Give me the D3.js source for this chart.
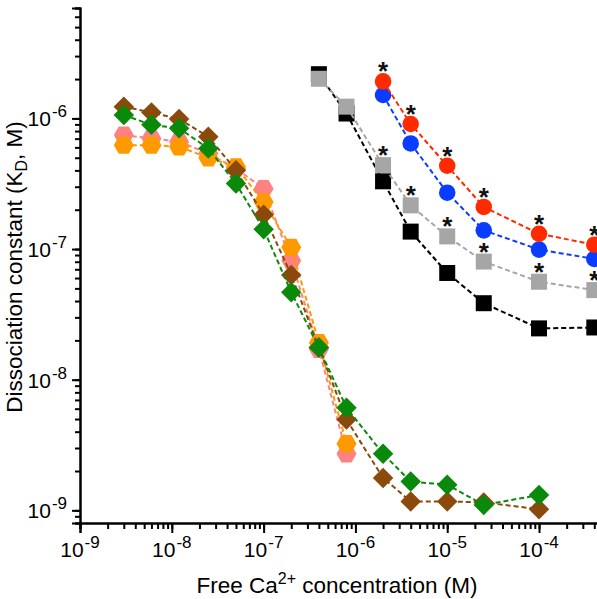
<!DOCTYPE html>
<html>
<head>
<meta charset="utf-8">
<script src="https://cdn.jsdelivr.net/npm/d3@7"></script>
<style>
  body { margin: 0; background: #fff; }
  svg { display: block; font-family: "Liberation Sans", Arial, sans-serif; }
</style>
</head>
<body>
<div id="chart"></div>
<script>
// ---------------- data ----------------
const xLeft = [3e-9, 6e-9, 1.2e-8, 2.5e-8, 5e-8, 1e-7, 2e-7, 4e-7, 8e-7, 2e-6, 4e-6, 1e-5, 2.5e-5, 1e-4];
const brownKd = [1.23e-6, 1.11e-6, 9.9e-7, 7.24e-7, 4.01e-7, 1.83e-7, 6.34e-8, 1.76e-8, 4.95e-9, 1.77e-9, 1.17e-9, 1.17e-9, 1.15e-9, 1.02e-9];
const greenKd = [1.06e-6, 8.93e-7, 8.4e-7, 5.89e-7, 3.17e-7, 1.42e-7, 4.67e-8, 1.76e-8, 6.1e-9, 2.71e-9, 1.66e-9, 1.57e-9, 1.1e-9, 1.31e-9];
const xHex = [3e-9, 6e-9, 1.2e-8, 2.5e-8, 5e-8, 1e-7, 2e-7, 4e-7, 8e-7];
const pinkKd = [7.45e-7, 7.03e-7, 6.64e-7, 5.4e-7, 4.13e-7, 2.9e-7, 8.15e-8, 1.71e-8, 2.71e-9];
const orangeKd = [6.24e-7, 6.24e-7, 6.07e-7, 5.0e-7, 4.26e-7, 2.29e-7, 1.03e-7, 1.92e-8, 3.24e-9];

const xSquare = [4e-7, 8e-7, 2e-6, 4e-6, 1e-5, 2.5e-5, 1e-4, 4e-4];
const blackKd = [2.18e-6, 1.09e-6, 3.3e-7, 1.36e-7, 6.56e-8, 3.85e-8, 2.47e-8, 2.51e-8];
const grayKd = [2.01e-6, 1.23e-6, 4.39e-7, 2.16e-7, 1.25e-7, 8.02e-8, 5.62e-8, 4.85e-8];
const grayStar = [false, false, true, true, true, true, true, true];

const xCircle = [2e-6, 4e-6, 1e-5, 2.5e-5, 1e-4, 4e-4];
const blueKd = [1.51e-6, 6.43e-7, 2.7e-7, 1.39e-7, 9.9e-8, 8.41e-8];
const redKd = [1.92e-6, 9.06e-7, 4.34e-7, 2.1e-7, 1.31e-7, 1.08e-7];
const redStar = [true, true, true, true, true, true];

const xTickExp = [-9, -8, -7, -6, -5, -4];
const yTickExp = [-9, -8, -7, -6];

// ---------------- layout ----------------
const W = 597, H = 599;
const svg = d3.select("#chart").append("svg")
    .attr("width", W)
    .attr("height", H);

const x = d3.scaleLog().domain([1e-9, 5e-4]).range([80, 603.2]);
const y = d3.scaleLog().domain([8e-10, 7e-6]).range([523, 8]);

// minor tick values (1..9 of each decade)
function minorTicks(lo, hi) {
    const out = [];
    for (let e = -10; e <= -3; e++) {
        for (let m = 1; m <= 9; m++) {
            const v = m * Math.pow(10, e);
            if (v >= lo * 0.9999 && v <= hi * 1.0001) out.push(v);
        }
    }
    return out;
}

// hexagon with flat top/bottom
function hexPath(r) {
    const p = d3.path();
    for (let k = 0; k < 6; k++) {
        const a = k * Math.PI / 3;
        const px = r * Math.cos(a), py = r * Math.sin(a);
        if (k === 0) p.moveTo(px, py); else p.lineTo(px, py);
    }
    p.closePath();
    return p.toString();
}

const shapes = {
    square: d3.symbol().type(d3.symbolSquare).size(256)(),
    circle: d3.symbol().type(d3.symbolCircle).size(215)(),
    diamond: d3.symbol().type(d3.symbolSquare).size(210)(),
    hex: hexPath(10)
};

function drawSeries(xs, ys, color, shape, stars) {
    const pts = xs.map((d, i) => [d, ys[i]]);
    const g = svg.append("g");
    g.append("path")
        .datum(pts)
        .attr("fill", "none")
        .attr("stroke", color)
        .attr("stroke-width", 2)
        .attr("stroke-dasharray", "5,3")
        .attr("d", d3.line().x(d => x(d[0])).y(d => y(d[1])));
    g.selectAll("path.m")
        .data(pts)
        .join("path")
        .attr("class", "m")
        .attr("d", shapes[shape])
        .attr("fill", color)
        .attr("transform", d => `translate(${x(d[0])},${y(d[1])})` + (shape === "diamond" ? " rotate(45)" : ""));
    if (stars) {
        g.selectAll("text.star")
            .data(pts.filter((d, i) => stars[i]))
            .join("text")
            .attr("class", "star")
            .attr("x", d => x(d[0]))
            .attr("y", d => y(d[1]) - 1)
            .attr("text-anchor", "middle")
            .attr("font-size", 26)
            .attr("font-weight", "bold")
            .attr("fill", "#111")
            .text("*");
    }
}

// ---------------- series ----------------
drawSeries(xHex, pinkKd, "#ff8282", "hex");
drawSeries(xHex, orangeKd, "#ff9900", "hex");
drawSeries(xLeft, brownKd, "#8b4a0c", "diamond");
drawSeries(xLeft, greenKd, "#0a8a0a", "diamond");
drawSeries(xSquare, blackKd, "#000000", "square");
drawSeries(xSquare, grayKd, "#a6a6a6", "square", grayStar);
drawSeries(xCircle, blueKd, "#0a3cff", "circle");
drawSeries(xCircle, redKd, "#ff2a00", "circle", redStar);

// ---------------- axes ----------------
const xAxisY = 523, yAxisX = 80;
const xMajor = xTickExp.map(e => Math.pow(10, e));
const yMajor = yTickExp.map(e => Math.pow(10, e));

const xg = svg.append("g").attr("transform", `translate(0,${xAxisY})`);
xg.call(d3.axisBottom(x).tickValues(minorTicks(1e-9, 5e-4)).tickSize(6).tickFormat(""));
xg.append("g").call(d3.axisBottom(x).tickValues(xMajor).tickSize(10).tickFormat(""));
xg.selectAll("path.domain").attr("stroke-width", 2).attr("stroke", "#000");
xg.selectAll(".tick line").attr("stroke-width", 2).attr("stroke", "#000");

const yg = svg.append("g").attr("transform", `translate(${yAxisX},0)`);
yg.call(d3.axisLeft(y).tickValues(minorTicks(8e-10, 7e-6)).tickSize(5).tickFormat(""));
yg.append("g").call(d3.axisLeft(y).tickValues(yMajor).tickSize(8).tickFormat(""));
yg.selectAll("path.domain").attr("stroke-width", 2).attr("stroke", "#000");
yg.selectAll(".tick line").attr("stroke-width", 2).attr("stroke", "#000");

// tick labels 10^n
xTickExp.forEach(e => {
    const t = svg.append("text")
        .attr("x", x(Math.pow(10, e)))
        .attr("y", 557)
        .attr("text-anchor", "middle")
        .attr("font-size", 21)
        .attr("fill", "#000");
    t.append("tspan").text("10");
    t.append("tspan").attr("font-size", 17).attr("dx", 1).attr("dy", -9).text(String(e));
});
yTickExp.forEach(e => {
    const t = svg.append("text")
        .attr("x", 67)
        .attr("y", y(Math.pow(10, e)) + 8)
        .attr("text-anchor", "end")
        .attr("font-size", 21)
        .attr("fill", "#000");
    t.append("tspan").text("10");
    t.append("tspan").attr("font-size", 17).attr("dx", 1).attr("dy", -9).text(String(e));
});

// axis titles
const xt = svg.append("text")
    .attr("x", 337)
    .attr("y", 593)
    .attr("text-anchor", "middle")
    .attr("font-size", 22.5)
    .attr("fill", "#000");
xt.append("tspan").text("Free Ca");
xt.append("tspan").attr("font-size", 16).attr("dy", -9).text("2+");
xt.append("tspan").attr("dy", 9).text(" concentration (M)");

const yt = svg.append("text")
    .attr("transform", "translate(22,267) rotate(-90)")
    .attr("text-anchor", "middle")
    .attr("font-size", 22.5)
    .attr("fill", "#000");
yt.append("tspan").text("Dissociation constant (K");
yt.append("tspan").attr("font-size", 16).attr("dy", 5).text("D");
yt.append("tspan").attr("dy", -5).text(", M)");
</script>
</body>
</html>
